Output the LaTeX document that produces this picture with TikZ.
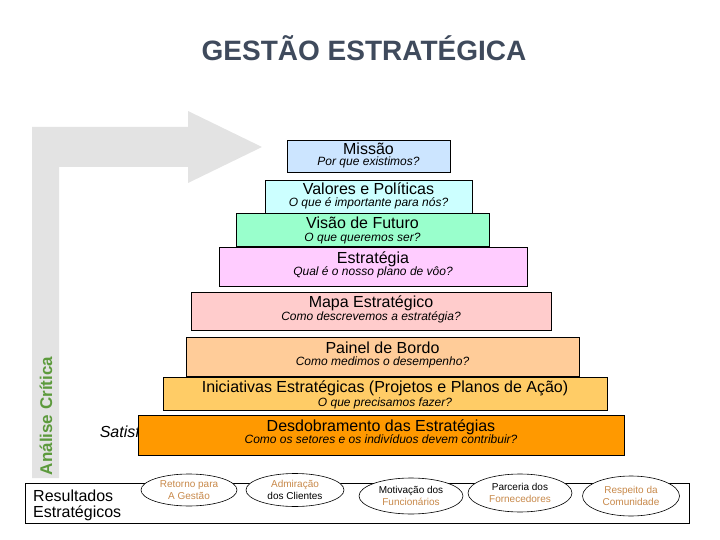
\documentclass[tikz,border=0pt]{standalone}
\usepackage{fontspec}
\setmainfont{Liberation Sans}
\usetikzlibrary{shapes.geometric}
\definecolor{arrowgray}{HTML}{E3E3E3}
\definecolor{titlecol}{HTML}{3F4A5C}
\definecolor{greentxt}{HTML}{5C9A3C}
\definecolor{brown}{HTML}{C8894A}
\definecolor{cMissao}{HTML}{CCE5FF}
\definecolor{cValores}{HTML}{CCFFFF}
\definecolor{cVisao}{HTML}{99FFCC}
\definecolor{cEstrat}{HTML}{FFCCFF}
\definecolor{cMapa}{HTML}{FFCCCC}
\definecolor{cPainel}{HTML}{FFCC99}
\definecolor{cInic}{HTML}{FFCC66}
\definecolor{cDesd}{HTML}{FF9900}
\tikzset{
  lvlbox/.style={draw=black, line width=0.8pt, inner sep=0pt},
  ttl/.style={inner sep=0pt, anchor=base, font=\fontsize{16}{18}\selectfont},
  sub/.style={inner sep=0pt, anchor=base, font=\fontsize{12}{14}\selectfont\itshape},
  oval/.style={draw=black, ellipse, fill=white, line width=0.6pt, inner sep=0pt, align=center, font=\fontsize{10}{11.5}\selectfont},
}
\begin{document}
\begin{tikzpicture}[x=1pt,y=-1pt]
\useasboundingbox (0,0) rectangle (720,540);
% title
\node[inner sep=0pt, text=titlecol, font=\fontsize{28}{30}\selectfont\bfseries] (title) at (364,48) {GESTÃO ESTRATÉGICA};
% L-shaped arrow
\fill[arrowgray] (32,127) -- (188,127) -- (188,111) -- (262,147) -- (188,183) -- (188,167) -- (59,167) -- (59,478) -- (32,478) -- cycle;
\node[rotate=90, inner sep=0pt, text=greentxt, font=\fontsize{17}{19}\selectfont\bfseries] (analise) at (46,416) {Análise Crítica};
% Satisf text (behind orange box)
\node[inner sep=0pt, anchor=base east, font=\fontsize{16}{18}\selectfont\itshape] (satisf) at (140,437) {Satisf};
% levels
\node[lvlbox, fill=cMissao, minimum width=163pt, minimum height=32pt] (b1) at (368.5,156) {};
\node[ttl] (t1) at (368.5,154.5) {Missão};
\node[sub] (s1) at (368.5,166) {Por que existimos?};

\node[lvlbox, fill=cValores, minimum width=207pt, minimum height=33pt] (b2) at (368.5,196.5) {};
\node[ttl] (t2) at (368.5,194.5) {Valores e Políticas};
\node[sub] (s2) at (368.5,207) {O que é importante para nós?};

\node[lvlbox, fill=cVisao, minimum width=253pt, minimum height=33pt] (b3) at (362.5,229.5) {};
\node[ttl] (t3) at (362.5,228.5) {Visão de Futuro};
\node[sub] (s3) at (362.5,241) {O que queremos ser?};

\node[lvlbox, fill=cEstrat, minimum width=308pt, minimum height=39pt] (b4) at (373,266.5) {};
\node[ttl] (t4) at (373,263.5) {Estratégia};
\node[sub] (s4) at (373,275) {Qual é o nosso plano de vôo?};

\node[lvlbox, fill=cMapa, minimum width=360pt, minimum height=38pt] (b5) at (371,311) {};
\node[ttl] (t5) at (371,307.5) {Mapa Estratégico};
\node[sub] (s5) at (371,320) {Como descrevemos a estratégia?};

\node[lvlbox, fill=cPainel, minimum width=393pt, minimum height=39pt] (b6) at (382.5,356.5) {};
\node[ttl] (t6) at (382.5,353.5) {Painel de Bordo};
\node[sub] (s6) at (382.5,365) {Como medimos o desempenho?};

\node[lvlbox, fill=cInic, minimum width=444pt, minimum height=33pt] (b7) at (385,393.5) {};
\node[ttl] (t7) at (385,392.5) {Iniciativas Estratégicas (Projetos e Planos de Ação)};
\node[sub] (s7) at (385,406) {O que precisamos fazer?};

\node[lvlbox, fill=cDesd, minimum width=486pt, minimum height=40pt] (b8) at (381,435) {};
\node[ttl] (t8) at (381,431.5) {Desdobramento das Estratégias};
\node[sub] (s8) at (381,443) {Como os setores e os indivíduos devem contribuir?};

% results box
\node[draw=black, line width=0.8pt, inner sep=0pt, minimum width=664pt, minimum height=40pt] (res) at (357.5,503.5) {};
\node[inner sep=0pt, anchor=base west, font=\fontsize{16}{18}\selectfont] (res1) at (33,501.5) {Resultados};
\node[inner sep=0pt, anchor=base west, font=\fontsize{16}{18}\selectfont] (res2) at (33,517) {Estratégicos};

\node[oval, minimum width=96pt, minimum height=32pt] (e1) at (189,490) {\textcolor{brown}{Retorno para}\\\textcolor{brown}{A Gestão}};
\node[oval, minimum width=98pt, minimum height=33pt] (e2) at (295,490) {\textcolor{brown}{Admiração}\\dos Clientes};
\node[oval, minimum width=104pt, minimum height=36pt] (e3) at (411,496) {Motivação dos\\\textcolor{brown}{Funcionários}};
\node[oval, minimum width=104pt, minimum height=38pt] (e4) at (520,493) {Parceria dos\\\textcolor{brown}{Fornecedores}};
\node[oval, minimum width=97pt, minimum height=40pt] (e5) at (631,496) {\textcolor{brown}{Respeito da}\\\textcolor{brown}{Comunidade}};
\end{tikzpicture}
\end{document}
